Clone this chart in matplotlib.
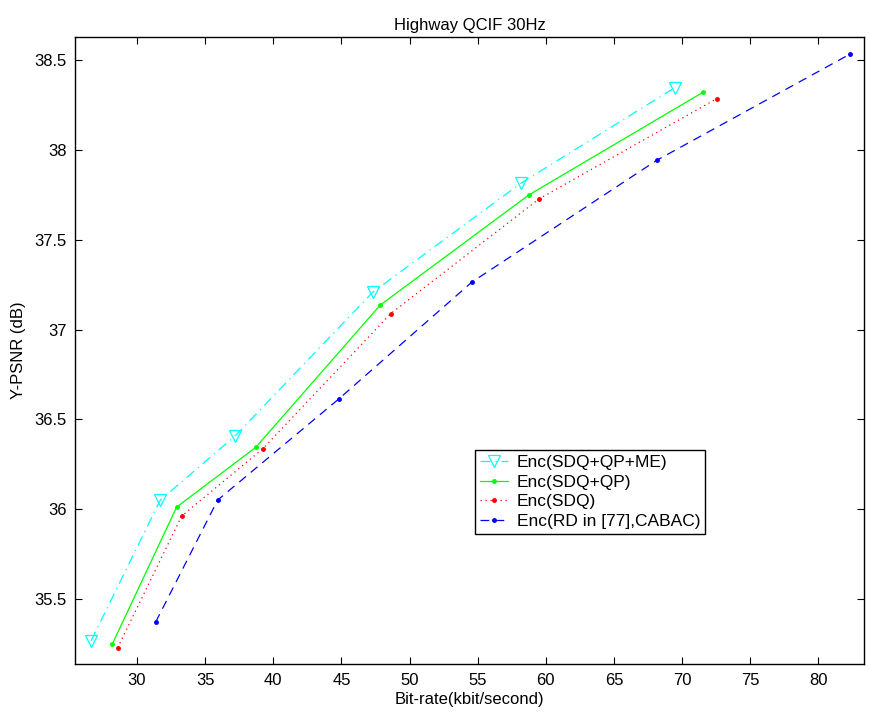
import matplotlib
matplotlib.use('Agg')
import matplotlib.pyplot as plt
from matplotlib.ticker import FuncFormatter
import numpy as np

plt.rcParams['font.family'] = ['Liberation Sans', 'DejaVu Sans']

# bit-rate (kbit/s) and Y-PSNR (dB) for each encoder
rate_sdq_qp_me = [26.63, 31.71, 37.19, 47.29, 58.17, 69.47]
psnr_sdq_qp_me = [35.268, 36.051, 36.407, 37.207, 37.814, 38.346]

rate_sdq_qp = [28.19, 32.91, 38.71, 47.85, 58.76, 71.53]
psnr_sdq_qp = [35.250, 36.012, 36.344, 37.136, 37.749, 38.320]

rate_sdq = [28.58, 33.28, 39.24, 48.61, 59.49, 72.55]
psnr_sdq = [35.229, 35.962, 36.337, 37.088, 37.726, 38.285]

rate_rd = [31.37, 35.92, 44.80, 54.56, 68.15, 82.31]
psnr_rd = [35.372, 36.051, 36.613, 37.263, 37.942, 38.532]

labels = ['Enc(SDQ+QP+ME)', 'Enc(SDQ+QP)', 'Enc(SDQ)', 'Enc(RD in [77],CABAC)']

fig = plt.figure(figsize=(8.69, 7.15), dpi=100)
ax = fig.add_axes([0.0863, 0.0709, 0.9079, 0.8774])

lw = 0.9
ax.plot(rate_sdq_qp_me, psnr_sdq_qp_me, color='cyan', lw=lw, dashes=(8, 4, 1, 4),
        marker='v', markersize=9, markerfacecolor='none', markeredgecolor='cyan',
        markeredgewidth=0.9, label=labels[0])
ax.plot(rate_sdq_qp, psnr_sdq_qp, color='#00ff00', lw=lw, linestyle='-',
        marker='.', markersize=5, label=labels[1])
ax.plot(rate_sdq, psnr_sdq, color='red', lw=lw, dashes=(1, 3),
        marker='.', markersize=5, label=labels[2])
ax.plot(rate_rd, psnr_rd, color='blue', lw=lw, dashes=(7, 5),
        marker='.', markersize=5, label=labels[3])

ax.set_xlim(25.45, 83.35)
ax.set_ylim(35.137, 38.628)
ax.set_xticks(np.arange(30, 81, 5))
ax.set_yticks(np.arange(35.5, 38.51, 0.5))
ax.yaxis.set_major_formatter(FuncFormatter(lambda v, p: '%g' % v))

ax.tick_params(direction='in', length=5, width=0.8, top=True, right=True,
               labelsize=12, pad=6)
for s in ax.spines.values():
    s.set_linewidth(1.0)

ax.set_title('Highway QCIF 30Hz', fontsize=12, pad=5)
ax.set_xlabel('Bit-rate(kbit/second)', fontsize=12, labelpad=3)
ax.set_ylabel('Y-PSNR (dB)', fontsize=12, labelpad=6)

leg = ax.legend(loc='upper left', bbox_to_anchor=(0.507, 0.342), fontsize=12.5,
                frameon=True, fancybox=False, edgecolor='black', framealpha=1,
                borderpad=0.3, labelspacing=0.25, handlelength=1.6,
                handletextpad=0.5, borderaxespad=0)
leg.get_frame().set_linewidth(1.0)

fig.savefig('out.png', dpi=100)
